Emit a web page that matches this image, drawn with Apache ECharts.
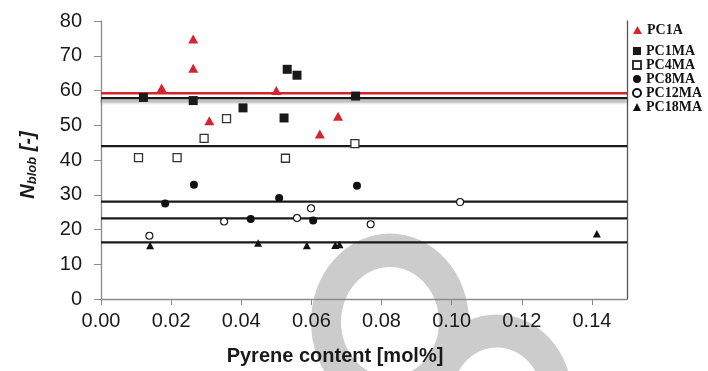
<!DOCTYPE html>
<html>
<head>
<meta charset="utf-8">
<script src="https://cdn.jsdelivr.net/npm/echarts@6/dist/echarts.min.js"></script>
<style>html,body{margin:0;padding:0;background:#fff;}#c{width:708px;height:371px;}</style>
</head>
<body>
<div id="c"></div>
<script>
// Tick labels
const xTicks = [0, 0.02, 0.04, 0.06, 0.08, 0.10, 0.12, 0.14];
const yTicks = [0, 10, 20, 30, 40, 50, 60, 70, 80];

// Series data (pyrene content [mol%], Nblob)
const pc1aX  = [0.0173, 0.0263, 0.0263, 0.0309, 0.0500, 0.0624, 0.0676];
const pc1aY  = [60.7, 66.4, 74.8, 51.3, 60.0, 47.5, 52.6];
const pc1maX = [0.0121, 0.0263, 0.0405, 0.0522, 0.0531, 0.0559, 0.0726];
const pc1maY = [58.0, 57.1, 55.0, 52.1, 66.1, 64.4, 58.4];
const pc4maX = [0.0107, 0.0217, 0.0294, 0.0358, 0.0526, 0.0724];
const pc4maY = [40.7, 40.7, 46.2, 51.9, 40.5, 44.7];
const pc8maX = [0.0183, 0.0265, 0.0427, 0.0508, 0.0605, 0.0730];
const pc8maY = [27.5, 32.9, 23.0, 29.1, 22.6, 32.6];
const pc12maX = [0.0138, 0.0351, 0.0559, 0.0599, 0.0769, 0.1024];
const pc12maY = [18.2, 22.3, 23.3, 26.1, 21.5, 27.9];
const pc18maX = [0.0140, 0.0448, 0.0587, 0.0668, 0.0680, 0.1414];
const pc18maY = [15.4, 16.1, 15.4, 15.5, 15.7, 18.8];

// Average Nblob levels (horizontal lines)
const levelNames  = ['PC1A avg', 'PC1MA avg', 'PC4MA avg', 'PC8MA avg', 'PC12MA avg', 'PC18MA avg'];
const levelValues = [59.2, 57.8, 44.0, 28.0, 23.2, 16.3];

const xMin = 0, xMax = 0.15;
const zip = (xs, ys) => xs.map((x, i) => [x, ys[i]]);

const RED = '#d4252d';
const scatterDefs = [
  {name: 'PC1A',   xs: pc1aX,  ys: pc1aY,  symbol: 'triangle', size: [10, 9], style: {color: RED}},
  {name: 'PC1MA',  xs: pc1maX, ys: pc1maY, symbol: 'rect',     size: 9, style: {color: '#1a1a1a'}},
  {name: 'PC4MA',  xs: pc4maX, ys: pc4maY, symbol: 'rect',     size: 8, style: {color: '#fff', borderColor: '#333', borderWidth: 1.3}},
  {name: 'PC8MA',  xs: pc8maX, ys: pc8maY, symbol: 'circle',   size: 8, style: {color: '#111'}},
  {name: 'PC12MA', xs: pc12maX, ys: pc12maY, symbol: 'circle', size: 7, style: {color: '#fff', borderColor: '#111', borderWidth: 1.1}},
  {name: 'PC18MA', xs: pc18maX, ys: pc18maY, symbol: 'triangle', size: [8, 7.5], style: {color: '#111'}}
];

const series = [];
levelValues.forEach((v, i) => {
  const ls = {color: i === 0 ? RED : '#1a1a1a', width: i === 0 ? 2.5 : 2.2, type: 'solid'};
  if (i === 1) { ls.shadowColor = 'rgba(0,0,0,0.45)'; ls.shadowBlur = 3; ls.shadowOffsetY = 3; }
  series.push({
    name: levelNames[i], type: 'line', data: [[xMin, v], [xMax, v]],
    symbol: 'none', silent: true, z: 1, lineStyle: ls, animation: false
  });
});
scatterDefs.forEach(d => {
  series.push({
    name: d.name, type: 'scatter', data: zip(d.xs, d.ys),
    symbol: d.symbol, symbolSize: d.size, itemStyle: Object.assign({opacity: 1}, d.style),
    z: 3, animation: false
  });
});

const legendText = {fontFamily: 'Liberation Serif', fontWeight: 'bold', fontSize: 14, color: '#111', lineHeight: 13};

const chart = echarts.init(document.getElementById('c'), null, {renderer: 'canvas'});
chart.setOption({
  animation: false,
  backgroundColor: '#fff',
  grid: {left: 101, right: 81, top: 21, bottom: 70, containLabel: false},
  graphic: [
    {type: 'ring', silent: true, z: -10, x: 390, y: 322, scaleY: 1.12,
     shape: {cx: 0, cy: 0, r: 79, r0: 49}, style: {fill: '#cccccc'}},
    {type: 'ring', silent: true, z: -10, x: 497, y: 397, scaleY: 1.1,
     shape: {cx: 0, cy: 0, r: 75, r0: 45}, style: {fill: '#cccccc'}}
  ],
  legend: [
    {data: [{name: 'PC1A', icon: 'triangle'}], orient: 'vertical', left: 633, top: 23, padding: 0,
     itemWidth: 9, itemHeight: 8, itemGap: 0, selectedMode: false, textStyle: legendText},
    {data: [{name: 'PC1MA', icon: 'rect'}, {name: 'PC4MA', icon: 'rect'}, {name: 'PC8MA', icon: 'circle'},
            {name: 'PC12MA', icon: 'circle'}, {name: 'PC18MA', icon: 'triangle'}],
     orient: 'vertical', left: 632, top: 44, padding: 0,
     itemWidth: 8, itemHeight: 8, itemGap: 0, selectedMode: false, textStyle: legendText}
  ],
  xAxis: {
    type: 'value', min: xMin, max: xMax,
    name: 'Pyrene content [mol%]', nameLocation: 'middle', nameGap: 47,
    nameTextStyle: {fontFamily: 'Liberation Sans', fontWeight: 'bold', fontSize: 20, color: '#1a1a1a', padding: [0, 58, 0, 0]},
    axisLine: {show: true, lineStyle: {color: '#8a8a8a', width: 1.3}},
    axisTick: {show: true, inside: false, length: 6, customValues: xTicks, lineStyle: {color: '#8a8a8a'}},
    axisLabel: {customValues: xTicks, margin: 12, fontFamily: 'Liberation Sans', fontSize: 20, color: '#1a1a1a',
                formatter: v => v.toFixed(2)},
    splitLine: {show: false}
  },
  yAxis: [
    {
      type: 'value', min: 0, max: 80, interval: 10,
      name: '{n|N}{s|blob}{n| [-]}', nameLocation: 'middle', nameGap: 62, nameRotate: 90,
      nameTextStyle: {padding: [0, 10, 0, 0], rich: {
        n: {fontFamily: 'Liberation Sans', fontWeight: 'bold', fontStyle: 'italic', fontSize: 20, color: '#1a1a1a', lineHeight: 22},
        s: {fontFamily: 'Liberation Sans', fontWeight: 'bold', fontStyle: 'italic', fontSize: 13, color: '#1a1a1a', verticalAlign: 'bottom', lineHeight: 13}
      }},
      axisLine: {show: true, lineStyle: {color: '#8a8a8a', width: 1.3}},
      axisTick: {show: true, inside: false, length: 7, customValues: yTicks, lineStyle: {color: '#8a8a8a'}},
      axisLabel: {customValues: yTicks, margin: 19, fontFamily: 'Liberation Sans', fontSize: 20, color: '#1a1a1a'},
      splitLine: {show: false}
    },
    {
      type: 'value', min: 0, max: 80, position: 'right',
      axisLine: {show: true, lineStyle: {color: '#555', width: 1.3}},
      axisTick: {show: false}, axisLabel: {show: false}, splitLine: {show: false}
    }
  ],
  series: series
});
</script>
</body>
</html>
